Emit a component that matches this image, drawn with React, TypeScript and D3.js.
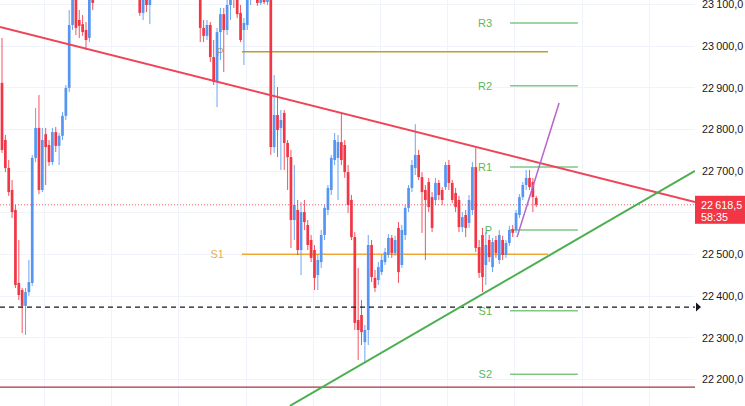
import { scaleLinear, line, formatLocale } from "d3";

// [open, high, low, close]
const candles: [number, number, number, number][] = [
  [22911, 23019, 22743, 22750], [22774, 22786, 22697, 22707], [22707, 22726, 22640, 22649], [22654, 22678, 22587, 22601],
  [22606, 22618, 22419, 22426], [22431, 22534, 22390, 22402], [22414, 22419, 22311, 22376], [22376, 22419, 22306, 22409],
  [22409, 22486, 22400, 22433], [22431, 22738, 22424, 22731], [22731, 22851, 22721, 22803], [22803, 22882, 22644, 22654],
  [22654, 22803, 22649, 22774], [22788, 22803, 22666, 22757], [22762, 22774, 22712, 22721], [22721, 22803, 22714, 22793],
  [22793, 22805, 22745, 22760], [22760, 22791, 22714, 22784], [22784, 22841, 22774, 22832], [22832, 22906, 22822, 22899],
  [22899, 23086, 22889, 23050], [23050, 23158, 23038, 23134], [23122, 23146, 23026, 23043], [23062, 23086, 23019, 23048],
  [23052, 23074, 23024, 23033], [23038, 23057, 22990, 23014], [23019, 23146, 23009, 23122], [23134, 23158, 23086, 23103],
  [23115, 23160, 23112, 23146], [23146, 23190, 23138, 23182], [23182, 23195, 23155, 23163], [23163, 23228, 23158, 23218],
  [23218, 23230, 23192, 23201], [23201, 23252, 23195, 23242], [23242, 23250, 23215, 23225], [23225, 23232, 23186, 23194],
  [23194, 23214, 23188, 23206], [23206, 23212, 23162, 23170], [23170, 23190, 23160, 23182], [23182, 23188, 23138, 23146],
  [23146, 23152, 23120, 23129], [23129, 23146, 23072, 23079], [23079, 23134, 23062, 23122], [23122, 23139, 23081, 23098],
  [23098, 23158, 23052, 23134], [23134, 23178, 23125, 23170], [23170, 23214, 23162, 23206], [23206, 23216, 23180, 23187],
  [23187, 23238, 23182, 23230], [23230, 23240, 23210, 23218], [23218, 23258, 23212, 23249], [23249, 23255, 23204, 23211],
  [23211, 23220, 23186, 23194], [23194, 23232, 23188, 23225], [23225, 23230, 23175, 23182], [23182, 23190, 23155, 23163],
  [23163, 23192, 23158, 23182], [23182, 23188, 23130, 23139], [23139, 23145, 23114, 23122], [23122, 23134, 23009, 23043],
  [23043, 23062, 23009, 23024], [23024, 23062, 23014, 23050], [23050, 23057, 22961, 22973], [22973, 23014, 22906, 22913],
  [22913, 23043, 22853, 23033], [23033, 23091, 22966, 23076], [23076, 23091, 22937, 23038], [23038, 23110, 23026, 23098],
  [23098, 23158, 23062, 23134], [23134, 23146, 23091, 23115], [23115, 23129, 23067, 23076], [23079, 23098, 23009, 23014],
  [23038, 23067, 22954, 23055], [23050, 23134, 23038, 23110], [23110, 23170, 23098, 23146], [23146, 23158, 23115, 23129],
  [23129, 23139, 23096, 23103], [23103, 23134, 23098, 23117], [23117, 23129, 23100, 23105], [23105, 23139, 23098, 23122],
  [23122, 23134, 22738, 22757], [22757, 22930, 22743, 22834], [22834, 22901, 22733, 22798], [22803, 22846, 22702, 22822],
  [22839, 22846, 22702, 22767], [22767, 22774, 22654, 22733], [22733, 22750, 22515, 22582], [22582, 22714, 22534, 22618],
  [22606, 22630, 22498, 22510], [22510, 22625, 22450, 22601], [22601, 22630, 22558, 22577], [22570, 22582, 22510, 22522],
  [22534, 22546, 22481, 22491], [22510, 22522, 22414, 22443], [22450, 22498, 22414, 22486], [22481, 22558, 22467, 22546],
  [22546, 22618, 22534, 22611], [22606, 22666, 22594, 22659], [22654, 22738, 22642, 22731], [22726, 22791, 22714, 22774],
  [22731, 22786, 22630, 22769], [22769, 22839, 22714, 22726], [22762, 22774, 22683, 22697], [22697, 22714, 22599, 22618],
  [22630, 22642, 22534, 22541], [22541, 22553, 22318, 22335], [22342, 22467, 22246, 22318], [22354, 22390, 22282, 22313],
  [22289, 22330, 22241, 22318], [22318, 22546, 22282, 22522], [22522, 22534, 22433, 22445], [22443, 22462, 22409, 22419],
  [22438, 22481, 22426, 22469], [22457, 22498, 22450, 22486], [22481, 22515, 22474, 22505], [22498, 22548, 22491, 22539],
  [22539, 22546, 22491, 22503], [22503, 22544, 22496, 22534], [22563, 22577, 22431, 22457], [22474, 22570, 22467, 22558],
  [22546, 22618, 22534, 22611], [22611, 22666, 22601, 22659], [22659, 22726, 22649, 22714], [22707, 22812, 22690, 22738],
  [22738, 22750, 22678, 22685], [22685, 22697, 22551, 22649], [22654, 22666, 22486, 22630], [22673, 22683, 22601, 22613],
  [22637, 22649, 22553, 22563], [22630, 22683, 22618, 22671], [22671, 22678, 22630, 22642], [22654, 22661, 22618, 22630],
  [22661, 22721, 22654, 22714], [22714, 22726, 22654, 22671], [22671, 22678, 22623, 22630], [22647, 22659, 22601, 22613],
  [22630, 22640, 22553, 22565], [22565, 22601, 22553, 22589], [22594, 22606, 22541, 22563], [22575, 22642, 22563, 22630],
  [22606, 22721, 22594, 22709], [22709, 22755, 22505, 22515], [22517, 22534, 22443, 22455], [22546, 22563, 22409, 22445],
  [22474, 22553, 22426, 22522], [22534, 22546, 22481, 22493], [22469, 22539, 22457, 22529], [22534, 22544, 22491, 22503],
  [22486, 22558, 22476, 22546], [22534, 22544, 22486, 22498], [22498, 22534, 22491, 22527], [22527, 22568, 22520, 22558],
  [22560, 22570, 22541, 22551], [22558, 22606, 22551, 22599], [22594, 22644, 22587, 22637], [22637, 22673, 22630, 22666],
  [22666, 22702, 22654, 22683], [22683, 22702, 22654, 22661], [22673, 22683, 22601, 22637], [22635, 22640, 22613, 22618.5],
];

const priceTicks = [22200, 22300, 22400, 22500, 22600, 22700, 22800, 22900, 23000, 23100];
const gridBars = [12.5, 32.5, 52.5, 72.5, 92.5, 112.5, 132.5, 152.5, 172.5, 192.5];

// trend lines as [bar index, price] anchors
const resistanceLine: [number, number][] = [[-0.6, 23045], [206.25, 22625]];
const supportLine: [number, number][] = [[85.7, 22136], [206.25, 22700]];
const purpleRay: [number, number][] = [[153.3, 22541], [165.8, 22863]];

const greenPivotLabels = ["R3", "R2", "R1", "P", "S1", "S2"];
const greenPivotPrices = [23055, 22904, 22709, 22558, 22364, 22212];
const greenPivotSpan = [151.2, 171.4];

const prevPivotLabels = ["P", "S1"];
const prevPivotPrices = [22986, 22500];
const prevPivotSpan = [71.4, 162.5];

const dashedLevel = 22373;
const maroonLevel = 22181;
const lastPrice = 22618.5;
const countdown = "58:35";

const UP = "#5596f2";
const DOWN = "#f23645";

const fmt = formatLocale({
  decimal: ",",
  thousands: "\u2009",
  grouping: [3],
  currency: ["", ""],
}).format(",.1f");

export default function App() {
  const width = 745;
  const height = 406;
  const plotRight = 695;

  const x = scaleLinear().domain([0, 206.25]).range([2, plotRight]);
  const y = scaleLinear().domain([22135.6, 23110]).range([height, 0]);

  const seg = line<[number, number]>()
    .x((d) => x(d[0]))
    .y((d) => y(d[1]));

  const bodyW = 2.7;
  const font = "'Liberation Sans', Arial, sans-serif";

  return (
    <svg
      width={width}
      height={height}
      viewBox={`0 0 ${width} ${height}`}
      style={{ position: "absolute", left: 0, top: 0, background: "#fff" }}
    >
      <defs>
        <clipPath id="plot">
          <rect x={0} y={0} width={plotRight} height={height} />
        </clipPath>
      </defs>

      <g stroke="#f0f3fa" strokeWidth={1}>
        {priceTicks.map((p) => (
          <line key={`h${p}`} x1={0} x2={plotRight} y1={Math.round(y(p)) + 0.5} y2={Math.round(y(p)) + 0.5} />
        ))}
        {gridBars.map((b) => (
          <line key={`v${b}`} x1={Math.round(x(b)) + 0.5} x2={Math.round(x(b)) + 0.5} y1={0} y2={height} />
        ))}
      </g>

      <g clipPath="url(#plot)">
        {/* previous period pivots */}
        {prevPivotPrices.map((p, i) => {
          const color = i === 0 ? "#b9a12c" : "#f2a735";
          return (
            <g key={`pp${i}`}>
              <line x1={x(prevPivotSpan[0])} x2={x(prevPivotSpan[1])} y1={y(p)} y2={y(p)} stroke={color} strokeWidth={1.5} />
              <text x={x(prevPivotSpan[0]) - 18} y={y(p) + 4} textAnchor="end" fontSize={11} fontFamily={font} fill={i === 0 ? "#e0a030" : "#f0ad40"}>
                {prevPivotLabels[i]}
              </text>
            </g>
          );
        })}

        {/* current pivots */}
        {greenPivotPrices.map((p, i) => (
          <g key={`gp${i}`}>
            <line x1={x(greenPivotSpan[0])} x2={x(greenPivotSpan[1])} y1={y(p)} y2={y(p)} stroke="#81c784" strokeWidth={1.5} />
            <text x={x(greenPivotSpan[0]) - 18} y={y(p) + 4} textAnchor="end" fontSize={11} fontFamily={font} fill="#5cb85c">
              {greenPivotLabels[i]}
            </text>
          </g>
        ))}

        <line x1={0} x2={plotRight} y1={y(maroonLevel)} y2={y(maroonLevel)} stroke="#a8323f" strokeWidth={1.2} />

        {/* candles */}
        {candles.map(([o, h, l, c], i) => {
          const cx = x(i);
          const color = c >= o ? UP : DOWN;
          const top = y(Math.max(o, c));
          const bot = y(Math.min(o, c));
          return (
            <g key={i}>
              <line x1={cx} x2={cx} y1={y(h)} y2={y(l)} stroke={color} strokeWidth={1} opacity={0.85} />
              <rect x={cx - bodyW / 2} y={top} width={bodyW} height={Math.max(1, bot - top)} fill={color} />
            </g>
          );
        })}

        <line
          x1={0}
          x2={plotRight}
          y1={y(lastPrice)}
          y2={y(lastPrice)}
          stroke={DOWN}
          strokeWidth={1}
          strokeDasharray="1 2"
          opacity={0.8}
        />

        <line
          x1={0}
          x2={plotRight}
          y1={y(dashedLevel)}
          y2={y(dashedLevel)}
          stroke="#131722"
          strokeWidth={1.2}
          strokeDasharray="5 4"
        />

        <path d={seg(resistanceLine) ?? ""} stroke="#ef4357" strokeWidth={2} fill="none" />
        <path d={seg(supportLine) ?? ""} stroke="#4caf50" strokeWidth={2} fill="none" />
        <path d={seg(purpleRay) ?? ""} stroke="#b665cc" strokeWidth={1.5} fill="none" />
      </g>

      <path
        d={`M${plotRight + 1},${y(dashedLevel) - 4.5} L${plotRight + 6},${y(dashedLevel)} L${plotRight + 1},${y(dashedLevel) + 4.5} Z`}
        fill="#131722"
      />

      <g fontFamily={font} fontSize={10.8} fill="#131722">
        {priceTicks
          .filter((p) => p !== 22600)
          .map((p) => (
            <text key={`t${p}`} x={702} y={y(p) + 4}>
              {fmt(p)}
            </text>
          ))}
      </g>

      <rect x={plotRight} y={y(lastPrice) - 9} width={width - plotRight} height={28} fill={DOWN} />
      <text x={701} y={y(lastPrice) + 4} fontFamily={font} fontSize={10.8} fill="#fff">
        {fmt(lastPrice)}
      </text>
      <text x={701} y={y(lastPrice) + 16} fontFamily={font} fontSize={10.8} fill="#fff">
        {countdown}
      </text>
    </svg>
  );
}
